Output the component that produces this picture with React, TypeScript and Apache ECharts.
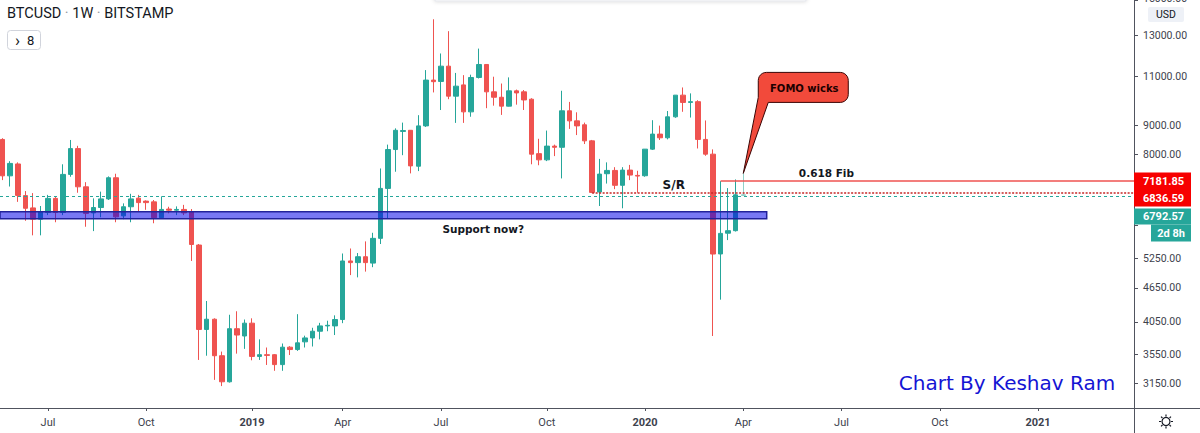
import React, { useEffect, useRef } from "react";
import * as echarts from "echarts";

// ---- Data: BTCUSD weekly (Bitstamp), one candle per week starting at firstWeekStart ----
const firstWeekStart = "2018-05-21";
const axisRefWeek = "2018-07-02"; // first July 2018 bar (week index 0 on the x axis)

const opens = [
  8507, 7337, 7700, 6770, 6440, 6150, 6320, 6694, 6320, 7380,
  8196, 7017, 6310, 6450, 6680, 7280, 6235, 6470, 6700, 6620,
  6600, 6190, 6410, 6380, 6400, 6340, 5537, 3928, 4095, 3530,
  3175, 3940, 3825, 4030, 3520, 3545, 3545, 3405, 3655, 3620,
  3735, 3795, 3900, 3985, 3985, 4090, 5190, 5155, 5280, 5145,
  5690, 6971, 8165, 8790, 8830, 7630, 8990, 10830, 10770, 11461,
  10145, 10620, 9517, 10946, 11540, 10325, 10100, 9741, 10366, 10325,
  10020, 8030, 7830, 8280, 8240, 9558, 9175, 9030, 8459, 6870,
  7400, 7500, 7060, 7510, 7350, 7340, 8178, 8694, 8565, 9327,
  10187, 9890, 9920, 8508, 8013, 5340, 5810, 5870, 6775,
];
const closes = [
  7337, 7717, 6776, 6430, 6150, 6340, 6694, 6320, 7380, 8196,
  7017, 6297, 6450, 6680, 7280, 6210, 6470, 6680, 6580, 6580,
  6190, 6400, 6380, 6400, 6310, 5550, 3928, 4095, 3530, 3175,
  3940, 3840, 4030, 3520, 3545, 3535, 3405, 3655, 3620, 3720,
  3795, 3900, 3985, 3995, 4090, 5190, 5155, 5280, 5155, 5690,
  6971, 8165, 8830, 8820, 7640, 8990, 10830, 10760, 11461, 10145,
  10566, 9517, 10946, 11540, 10325, 10100, 9741, 10366, 10280, 9990,
  8013, 7830, 8280, 8240, 9558, 9175, 8990, 8459, 6859, 7389,
  7500, 7060, 7510, 7360, 7330, 8178, 8694, 8565, 9327, 10187,
  9889, 9920, 8508, 8013, 5338, 5806, 5870, 6791, 6792.57,
];
const lows = [
  7211, 7025, 6600, 6111, 5760, 5760, 6254, 6075, 6254, 7310,
  6850, 5965, 5860, 6200, 6650, 6075, 6150, 6075, 6340, 6390,
  6050, 6170, 6300, 6254, 6254, 5190, 3470, 3530, 3200, 3120,
  3165, 3560, 3630, 3465, 3470, 3400, 3320, 3320, 3540, 3600,
  3650, 3665, 3773, 3900, 3840, 4030, 4900, 4855, 4970, 5060,
  5560, 6180, 7460, 7980, 7410, 7480, 8950, 10300, 9589, 10020,
  9100, 9100, 9330, 10900, 9660, 9760, 9400, 9730, 9800, 9590,
  7690, 7660, 7790, 7950, 7260, 8880, 8660, 8350, 6840, 6490,
  7110, 6950, 6430, 7210, 6850, 7310, 8150, 8489, 8510, 9290,
  9520, 9300, 8200, 7960, 3825, 4434, 5650, 5850, 6760,
];
const highs = [
  8550, 7787, 7750, 6896, 6840, 6490, 6790, 6750, 7690, 8489,
  8290, 7150, 6694, 6880, 7320, 7400, 6560, 6820, 6790, 6640,
  6650, 6750, 6470, 6480, 6520, 6410, 5560, 4410, 4110, 3590,
  4170, 4230, 4090, 4110, 3773, 3650, 3555, 3710, 3670, 4180,
  3830, 3955, 4035, 4070, 4160, 5350, 5460, 5360, 5620, 5820,
  7560, 8330, 8900, 9110, 8840, 9390, 11280, 13870, 12068, 13214,
  11150, 11050, 11070, 12310, 11550, 10980, 10680, 10950, 10420, 10400,
  10060, 8530, 8820, 8330, 10370, 9910, 9500, 9110, 8490, 7860,
  7750, 7600, 7600, 7670, 7490, 8180, 9200, 9000, 9550, 10190,
  10510, 10260, 9980, 9190, 8170, 7180, 6980, 7230, 7410,
];

// x-axis ticks: week index (from axisRefWeek) of the first bar of each labelled month
const xTickWeeks = [0, 13, 27, 39, 52, 66, 79, 92, 105, 118, 131];
const xTickLabels = ["Jul", "Oct", "2019", "Apr", "Jul", "Oct", "2020", "Apr", "Jul", "Oct", "2021"];

// price-scale ticks (log scale); the 6000/7000 labels sit under the price tags,
// the top one (15000) is clipped by the chart's top edge
const yTickPrices = [3150, 3550, 4050, 4650, 5250, 6000, 7000, 8000, 9000, 11000, 13000, 15000];
const yCoveredLabelPrices = [6000, 7000];
const yEdgeLabelPrice = 15000;

// levels drawn on the chart
const supportBand = [6160, 6340];
const currentPrice = 6792.57;
const srLevel = 6836.59;
const fibLevel = 7181.85;
const countdownText = "2d 8h";
const srStartWeek = 72;
const fibStartWeek = 89;
const bandEndWeek = 95.1;

// visible window
const X_MIN = -6.35;
const X_MAX = 143.7;
const Y_MIN_PRICE = 2854;
const Y_MAX_PRICE = 15000;

const UP = "#26a69a";
const DOWN = "#ef5350";
const AXIS_TEXT = "#3d424d";
const ANNOT_FONT = "'DejaVu Sans', Verdana, sans-serif";
const UI_FONT = "Roboto, 'Noto Sans', Arial, sans-serif";

const lg = (v: number) => Math.log10(v);
const fmtPrice = (v: number) => v.toFixed(2);

function arcPts(cx: number, cy: number, r: number, a0: number, a1: number, n = 6) {
  const pts: number[][] = [];
  for (let j = 0; j <= n; j++) {
    const a = ((a0 + ((a1 - a0) * j) / n) * Math.PI) / 180;
    pts.push([cx + r * Math.cos(a), cy + r * Math.sin(a)]);
  }
  return pts;
}

export default function App() {
  const ref = useRef<HTMLDivElement>(null);

  useEffect(() => {
    if (!ref.current) return;
    const chart = echarts.init(ref.current, undefined, { renderer: "svg" });

    const DAY = 86400000;
    const weekOffset = Math.round(
      (Date.parse(firstWeekStart) - Date.parse(axisRefWeek)) / (7 * DAY)
    );
    const lastIdx = opens.length - 1;
    const rows = opens.map((o, i) => {
      const value = [i + weekOffset, lg(o), lg(closes[i]), lg(lows[i]), lg(highs[i])];
      if (i === lastIdx) {
        return {
          value,
          itemStyle: {
            color: "#8fd0c8",
            color0: "#f5a3a1",
            borderColor: "#8fd0c8",
            borderColor0: "#f5a3a1",
          },
        };
      }
      return value;
    });

    const yTicks = yTickPrices.map(lg);
    const yLabelTicks = yTickPrices
      .filter((p) => !yCoveredLabelPrices.includes(p) && p !== yEdgeLabelPrice)
      .map(lg);

    chart.setOption({
      animation: false,
      backgroundColor: "#ffffff",
      grid: { left: 0, right: 66, top: 0, bottom: 25, containLabel: false },
      xAxis: {
        type: "value",
        min: X_MIN,
        max: X_MAX,
        axisLine: { show: true, onZero: false, lineStyle: { color: "#50535e", width: 1 } },
        axisTick: {
          show: true,
          customValues: xTickWeeks,
          length: 3,
          lineStyle: { color: "#50535e" },
        },
        axisLabel: {
          customValues: xTickWeeks,
          margin: 9,
          color: AXIS_TEXT,
          fontSize: 11,
          fontFamily: UI_FONT,
          formatter: (v: number) => {
            const idx = xTickWeeks.indexOf(Math.round(v));
            const s = idx >= 0 ? xTickLabels[idx] : "";
            return /^\d{4}$/.test(s) ? `{y|${s}}` : s;
          },
          rich: {
            y: { fontWeight: "bold", fontSize: 11, color: AXIS_TEXT, fontFamily: UI_FONT },
          },
        },
        splitLine: { show: false },
      },
      yAxis: {
        type: "value",
        position: "right",
        min: lg(Y_MIN_PRICE),
        max: lg(Y_MAX_PRICE),
        scale: true,
        axisLine: { show: true, onZero: false, lineStyle: { color: "#50535e", width: 1 } },
        axisTick: {
          show: true,
          customValues: yTicks,
          length: 4,
          lineStyle: { color: "#50535e" },
        },
        axisLabel: {
          customValues: yLabelTicks,
          margin: 9,
          color: AXIS_TEXT,
          fontSize: 10.5,
          fontFamily: UI_FONT,
          formatter: (v: number) => fmtPrice(Math.pow(10, v)),
        },
        splitLine: { show: false },
      },
      series: [
        {
          type: "candlestick",
          data: rows,
          dimensions: ["week", "open", "close", "lowest", "highest"],
          encode: { x: 0, y: [1, 2, 3, 4] },
          barWidth: 5,
          itemStyle: {
            color: UP,
            color0: DOWN,
            borderColor: UP,
            borderColor0: DOWN,
            borderWidth: 1,
          },
          markArea: {
            silent: true,
            z: 6,
            itemStyle: {
              color: "rgba(10,10,235,0.55)",
              borderColor: "#22229a",
              borderWidth: 1.5,
            },
            data: [
              [
                { coord: [X_MIN, lg(supportBand[1])] },
                { coord: [bandEndWeek, lg(supportBand[0])] },
              ],
            ],
          },
          markLine: {
            silent: true,
            symbol: ["none", "none"],
            label: { show: false },
            data: [
              {
                yAxis: lg(currentPrice),
                lineStyle: { color: UP, type: [3, 3], width: 1 },
              },
              [
                {
                  coord: [srStartWeek, lg(srLevel)],
                  lineStyle: { color: "#c62828", type: [2, 1.5], width: 1.5 },
                },
                { coord: [X_MAX, lg(srLevel)] },
              ],
              [
                {
                  coord: [fibStartWeek, lg(fibLevel)],
                  lineStyle: { color: "#ef5350", type: "solid", width: 1.5 },
                },
                { coord: [X_MAX, lg(fibLevel)] },
              ],
            ],
          },
        },
      ],
    });

    const toPx = (k: number, price: number) =>
      chart.convertToPixel({ xAxisIndex: 0, yAxisIndex: 0 }, [k, lg(price)]) as number[];

    const [axisX, axisBottom] = toPx(X_MAX, Y_MIN_PRICE);
    const yFib = toPx(X_MAX, fibLevel)[1];
    const ySR = toPx(X_MAX, srLevel)[1];
    const yCur = toPx(X_MAX, currentPrice)[1];
    const yEdge = toPx(X_MAX, yEdgeLabelPrice)[1];

    // stacked price-scale labels (TradingView style)
    const LH = 17;
    const boxW = 57;
    const t1 = yFib - LH / 2;
    const t2 = Math.max(ySR - LH / 2, t1 + LH);
    const t3 = Math.max(yCur - LH / 2, t2 + LH + 2);
    const t4 = t3 + 16;

    const priceLabelText = (txt: string, top: number) => ({
      type: "text",
      x: axisX + 9,
      y: top + LH / 2,
      z: 101,
      style: {
        text: txt,
        fill: "#ffffff",
        fontSize: 11,
        fontWeight: "bold",
        fontFamily: UI_FONT,
        align: "left",
        verticalAlign: "middle",
      },
    });

    // callout bubble pointing at the last candle's high
    const [tipX, tipY] = toPx(lastIdx + weekOffset, highs[lastIdx]);
    const bx0 = tipX + 15;
    const bx1 = bx0 + 90;
    const by1 = tipY - 71;
    const by0 = by1 - 30;
    const r = 8;
    const bubblePts = [
      ...arcPts(bx0 + r, by0 + r, r, 180, 270),
      ...arcPts(bx1 - r, by0 + r, r, 270, 360),
      ...arcPts(bx1 - r, by1 - r, r, 0, 90),
      [bx0 + 10, by1],
      [tipX, tipY],
      [bx0, by1 - 5],
    ];

    const fibTextPos = toPx(103, fibLevel);
    const srTextPos = toPx(82.8, srLevel);
    const supTextPos = toPx(57.6, supportBand[0]);

    const gearC = [axisX + 32, axisBottom + 13.5];
    const rays = Array.from({ length: 8 }, (_, j) => {
      const a = (j * Math.PI) / 4;
      return {
        type: "line",
        z: 102,
        shape: {
          x1: gearC[0] + 5 * Math.cos(a),
          y1: gearC[1] + 5 * Math.sin(a),
          x2: gearC[0] + 7 * Math.cos(a),
          y2: gearC[1] + 7 * Math.sin(a),
        },
        style: { stroke: "#131722", lineWidth: 1.2 },
      };
    });

    chart.setOption({
      graphic: [
        // toolbar shadow at top
        {
          type: "rect",
          z: 90,
          shape: { x: 435, y: -20, width: 371, height: 21 },
          style: { fill: "#ffffff", stroke: "#e3e5eb", shadowBlur: 4, shadowColor: "rgba(0,0,0,0.18)" },
        },
        // title
        {
          type: "text",
          x: 7,
          y: 13,
          z: 100,
          style: {
            text: "{a|BTCUSD}{d| · }{a|1W}{d| · }{a|BITSTAMP}",
            verticalAlign: "middle",
            rich: {
              a: { fontSize: 14.5, fontFamily: UI_FONT, fill: "#131722" },
              d: { fontSize: 14.5, fontFamily: UI_FONT, fill: "#9598a1" },
            },
          },
        },
        {
          type: "rect",
          z: 100,
          shape: { x: 7.5, y: 30.5, width: 33, height: 19, r: 3 },
          style: { fill: "#ffffff", stroke: "#d1d4dc", lineWidth: 1 },
        },
        {
          type: "text",
          x: 15,
          y: 40,
          z: 101,
          style: { text: "›", fontSize: 17, fontFamily: UI_FONT, fill: "#131722", verticalAlign: "middle" },
        },
        {
          type: "text",
          x: 27,
          y: 40,
          z: 101,
          style: { text: "8", fontSize: 13, fontFamily: UI_FONT, fill: "#131722", verticalAlign: "middle" },
        },
        // top price label, clipped by the chart's edge
        {
          type: "text",
          x: axisX + 9,
          y: yEdge - 2,
          z: 99,
          style: {
            text: fmtPrice(yEdgeLabelPrice),
            fontSize: 10.5,
            fontFamily: UI_FONT,
            fill: AXIS_TEXT,
            align: "left",
            verticalAlign: "middle",
          },
        },
        // USD tag
        {
          type: "rect",
          z: 100,
          shape: { x: axisX + 14, y: 7, width: 36, height: 15, r: 2 },
          style: { fill: "#eef1f7" },
        },
        {
          type: "text",
          x: axisX + 32,
          y: 14.5,
          z: 101,
          style: {
            text: "USD",
            fontSize: 10.5,
            fontFamily: UI_FONT,
            fill: "#131722",
            align: "center",
            verticalAlign: "middle",
          },
        },
        // price-scale labels
        {
          type: "rect",
          z: 100,
          shape: { x: axisX, y: t1, width: boxW, height: t2 + LH - t1 },
          style: { fill: "#f70000" },
        },
        priceLabelText(fmtPrice(fibLevel), t1),
        priceLabelText(fmtPrice(srLevel), t2),
        {
          type: "rect",
          z: 100,
          shape: { x: axisX, y: t3, width: boxW, height: 16 },
          style: { fill: UP },
        },
        priceLabelText(fmtPrice(currentPrice), t3 - 0.5),
        {
          type: "rect",
          z: 100,
          shape: { x: axisX + 17, y: t4, width: boxW - 17, height: LH },
          style: { fill: UP },
        },
        {
          type: "text",
          x: axisX + 17 + (boxW - 17) / 2,
          y: t4 + LH / 2,
          z: 101,
          style: {
            text: countdownText,
            fill: "#ffffff",
            fontSize: 11,
            fontWeight: "bold",
            fontFamily: UI_FONT,
            align: "center",
            verticalAlign: "middle",
          },
        },
        // axis extensions
        {
          type: "line",
          z: 100,
          shape: { x1: axisX, y1: axisBottom + 0.5, x2: 1200, y2: axisBottom + 0.5 },
          style: { stroke: "#50535e", lineWidth: 1 },
        },
        {
          type: "line",
          z: 100,
          shape: { x1: axisX + 0.5, y1: axisBottom, x2: axisX + 0.5, y2: 433 },
          style: { stroke: "#50535e", lineWidth: 1 },
        },
        // gear icon
        {
          type: "circle",
          z: 102,
          shape: { cx: gearC[0], cy: gearC[1], r: 4 },
          style: { fill: "none", stroke: "#131722", lineWidth: 1.2 },
        },
        ...rays,
        // callout
        {
          type: "polygon",
          z: 95,
          shape: { points: bubblePts },
          style: { fill: "#f24a3b", stroke: "#3a0505", lineWidth: 1 },
        },
        {
          type: "text",
          x: (bx0 + bx1) / 2 + 1,
          y: (by0 + by1) / 2 + 1,
          z: 96,
          style: {
            text: "FOMO wicks",
            fontSize: 10,
            fontWeight: "bold",
            fontFamily: ANNOT_FONT,
            fill: "#1c0000",
            align: "center",
            verticalAlign: "middle",
          },
        },
        // annotations
        {
          type: "text",
          x: fibTextPos[0],
          y: fibTextPos[1] - 8,
          z: 96,
          style: {
            text: "0.618 Fib",
            fontSize: 10.5,
            fontWeight: "bold",
            fontFamily: ANNOT_FONT,
            fill: "#131722",
            align: "center",
            verticalAlign: "middle",
          },
        },
        {
          type: "text",
          x: srTextPos[0],
          y: srTextPos[1] - 8,
          z: 96,
          style: {
            text: "S/R",
            fontSize: 12,
            fontWeight: "bold",
            fontFamily: ANNOT_FONT,
            fill: "#131722",
            align: "center",
            verticalAlign: "middle",
          },
        },
        {
          type: "text",
          x: supTextPos[0],
          y: supTextPos[1] + 10,
          z: 96,
          style: {
            text: "Support now?",
            fontSize: 10.5,
            fontWeight: "bold",
            fontFamily: ANNOT_FONT,
            fill: "#131722",
            align: "center",
            verticalAlign: "middle",
          },
        },
        {
          type: "text",
          x: 1007,
          y: 383,
          z: 96,
          style: {
            text: "Chart By Keshav Ram",
            fontSize: 20,
            fontFamily: ANNOT_FONT,
            fill: "#1414d4",
            align: "center",
            verticalAlign: "middle",
          },
        },
      ],
    });

    return () => {
      chart.dispose();
    };
  }, []);

  return (
    <div
      ref={ref}
      style={{ position: "absolute", left: 0, top: 0, width: 1200, height: 433 }}
    />
  );
}
